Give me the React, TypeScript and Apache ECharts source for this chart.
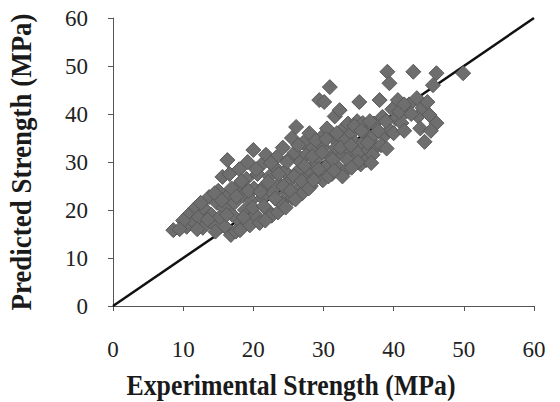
import React, { useEffect, useRef } from "react";
import * as echarts from "echarts";

// Experimental vs predicted compressive strength (MPa)
const experimental: number[] = [
  8.6, 10.5, 10.8, 11.5, 11.8, 12.2, 12.8,
  13.2, 13.7, 14, 14.2, 14.8, 15, 15.2, 15.6, 15.8, 16, 16.3, 16.4, 16.8, 16.6,
  17, 17.3, 17.5, 17.8, 18, 18.2, 18.5, 18.8, 19, 19.2, 19.5, 19.7, 20, 20.1, 20.3, 20.6, 20.9,
  21.2, 21.3, 21.6, 21.8, 22, 22.3, 22.6, 22.8, 23, 23.3, 23.5, 23.7, 24, 24.2, 24.5, 24.7,
  25, 25.2, 25.5, 25.6, 25.9, 26.1, 26.3, 26.5, 26.7, 27, 27.1, 27.4, 27.6, 27.8, 28, 28.2, 28.5, 28.7,
  29, 29.2, 29.4, 29.6, 29.9, 30, 30.1, 30.3, 30.5, 30.9, 31, 31.2, 31.4, 31.6, 31.8, 32, 32.3, 32.5,
  32.8, 33, 33.2, 33.5, 33.7, 34, 34.2, 34.5, 34.8, 35, 35.1, 35.3, 35.6, 35.6, 36, 36.1, 36.4,
  36.8, 37.2, 37.5, 38, 38.4, 38.7, 39.1, 39.4, 39.4, 39.8, 40.3, 40.6,
  41.1, 41.8, 42.2, 42.8, 43.3, 43.5, 44.1, 44.4, 45.1, 45.6, 46.1, 46.1, 49.9,
  12.5, 13.5, 14.5, 15.5, 16.2, 16.9, 17.6, 18.3, 18.6, 19.3, 19.9, 20.4, 21, 21.5, 22.1, 22.5,
  23.1, 23.6, 24.3, 24.8, 25.3, 25.8, 26.4, 26.9, 27.3, 27.9, 28.4, 28.9, 29.3, 29.8, 30.4, 30.7,
  31.3, 31.9, 32.4, 32.7, 33.4, 33.9, 34.4, 34.9, 35.4, 36.3, 36.6, 37, 37.8, 38.2, 38.9, 40,
  40.8, 41.5, 42.5, 43.8, 44.8, 45.3, 21.7, 18.1, 14.6, 12, 10, 9.5, 24.6, 26, 28.6, 31.5,
  34, 36.8, 39, 41.5,
];

const predicted: number[] = [
  15.8, 16.5, 19, 17.5, 20.5, 18.5, 16.3,
  20, 22.7, 19, 17.2, 21.5, 24, 18.5, 26.9, 20.5, 16.5, 30.4, 23, 14.8, 27.5,
  19, 21.5, 15.5, 25, 28.5, 17.5, 23, 20, 26.5, 30, 16.8, 22, 32.5, 24.5, 19, 27.5, 17.3,
  29.5, 22.5, 25, 31.5, 20, 27, 18.8, 23.5, 29, 31, 19.5, 25.5, 21.5, 33, 28, 23.5,
  30.5, 26, 35, 22.5, 32, 37.3, 28, 24.5, 30, 23.5, 34, 26.5, 31.5, 28.5, 36, 25, 33, 29.5,
  27, 31, 42.9, 35, 26.2, 33, 42.5, 29, 37, 45.6, 31, 27.5, 35, 39.5, 33, 29, 40.8, 36.5,
  31.5, 34.5, 28.3, 38, 32.5, 36, 30, 34, 38.5, 32, 42.5, 29.5, 38.1, 34, 36, 30.4, 32.5,
  35, 38, 33.1, 42.9, 39.4, 35.5, 48.8, 46.4, 36.7, 41, 39, 42.9,
  38.1, 40.5, 42, 48.8, 43.3, 39.5, 41.3, 34.2, 39.8, 46, 38.1, 48.5, 48.5,
  21.5, 18, 23.5, 22, 19, 24.5, 22.8, 26, 18.5, 24, 20.5, 28.5, 23.8, 20.8, 25.8, 29.8,
  22.4, 27.5, 25, 30, 24, 27, 33.5, 26, 29.2, 24.5, 31.2, 34.5, 28.5, 32, 34.8, 27,
  30.5, 36, 33, 27, 30.5, 33.5, 37.5, 30, 36.5, 34, 38.5, 31.5, 36.5, 33.5, 38.5, 36,
  40.5, 42, 40, 37, 42.5, 36.5, 17.8, 15.8, 15.5, 16, 17.8, 16, 20.5, 22.2, 26.2, 28.2,
  28.8, 29.8, 32.8, 36.5,
];

// Line of equality
const equalityLine: number[][] = [
  [0, 0],
  [60, 60],
];

const axisTicks: number[] = [0, 10, 20, 30, 40, 50, 60];

const xAxisTitle = "Experimental Strength (MPa)";
const yAxisTitle = "Predicted Strength (MPa)";

export default function App() {
  const ref = useRef<HTMLDivElement>(null);

  useEffect(() => {
    if (!ref.current) return;
    const chart = echarts.init(ref.current, undefined, { renderer: "svg" });
    const serif = "'Liberation Serif', 'Times New Roman', serif";
    const points = experimental.map((x, i) => [x, predicted[i]]);
    const axisCommon = {
      type: "value" as const,
      min: axisTicks[0],
      max: axisTicks[axisTicks.length - 1],
      interval: 10,
      splitLine: { show: false },
      axisLine: { show: true, lineStyle: { color: "#555", width: 1 } },
      axisTick: { show: true, length: 5, lineStyle: { color: "#555" } },
    };
    const titleStyle = {
      fontFamily: serif,
      fontWeight: "bold",
      fontSize: 30,
      fill: "#1a1a1a",
      align: "center",
      verticalAlign: "middle",
    };

    chart.setOption({
      animation: false,
      backgroundColor: "#ffffff",
      grid: { left: 113, right: 26, top: 18, bottom: 96, containLabel: false },
      xAxis: {
        ...axisCommon,
        axisLabel: { fontFamily: serif, fontSize: 23, color: "#222", margin: 32 },
      },
      yAxis: {
        ...axisCommon,
        axisLabel: { fontFamily: serif, fontSize: 23, color: "#222", margin: 25 },
      },
      graphic: [
        {
          type: "text",
          x: 291,
          y: 385,
          scaleX: 0.86,
          style: { ...titleStyle, text: xAxisTitle },
          silent: true,
        },
        {
          type: "text",
          x: 21,
          y: 162,
          rotation: Math.PI / 2,
          scaleX: 0.9,
          style: { ...titleStyle, text: yAxisTitle },
          silent: true,
        },
      ],
      series: [
        {
          type: "line",
          data: equalityLine,
          symbol: "none",
          lineStyle: { color: "#111", width: 2.5 },
          z: 1,
          silent: true,
        },
        {
          type: "scatter",
          data: points,
          symbol: "diamond",
          symbolSize: 15,
          itemStyle: { color: "#6e6e6e", borderColor: "#595959", borderWidth: 1, opacity: 1 },
          z: 2,
        },
      ],
    });

    return () => chart.dispose();
  }, []);

  return (
    <div
      ref={ref}
      style={{ position: "fixed", left: 0, top: 0, width: 560, height: 402 }}
    />
  );
}
